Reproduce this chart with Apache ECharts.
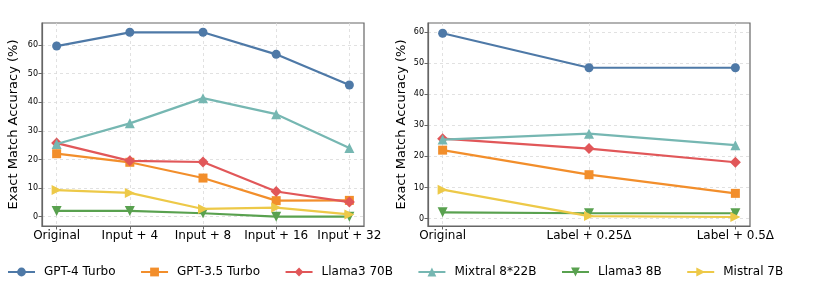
<!DOCTYPE html>
<html><head><meta charset="utf-8">
<script src="https://cdn.jsdelivr.net/npm/echarts@6/dist/echarts.min.js"></script>
<style>html,body{margin:0;padding:0;background:#fff}#c{width:830px;height:297px}</style>
</head><body><div id="c"></div>
<script>
const leftCats = ['Original', 'Input + 4', 'Input + 8', 'Input + 16', 'Input + 32'];
const rightCats = ['Original', 'Label + 0.25Δ', 'Label + 0.5Δ'];
const yTicks = [0, 10, 20, 30, 40, 50, 60];
const seriesNames = ['GPT-4 Turbo', 'GPT-3.5 Turbo', 'Llama3 70B', 'Mixtral 8*22B', 'Llama3 8B', 'Mistral 7B'];

const leftGPT4 = [59.6, 64.4, 64.4, 56.7, 46.0];
const leftGPT35 = [22.0, 19.0, 13.5, 5.6, 5.7];
const leftLlama70 = [25.7, 19.5, 19.1, 8.8, 5.1];
const leftMixtral = [25.4, 32.6, 41.4, 35.8, 24.0];
const leftLlama8 = [2.0, 2.0, 1.2, 0.0, 0.0];
const leftMistral = [9.3, 8.3, 2.7, 3.2, 0.8];

const rightGPT4 = [59.6, 48.5, 48.5];
const rightGPT35 = [22.0, 14.1, 8.1];
const rightLlama70 = [25.7, 22.5, 18.1];
const rightMixtral = [25.4, 27.3, 23.6];
const rightLlama8 = [2.0, 1.7, 1.7];
const rightMistral = [9.3, 0.8, 0.5];

const colors = ['#4e79a7', '#f28e2b', '#e15759', '#76b7b2', '#59a14f', '#edc948'];
const symbols = ['circle', 'rect', 'diamond', 'path://M5,0 L10,10 L0,10 Z', 'path://M0,0 L10,0 L5,10 Z', 'path://M0,0 L10,5 L0,10 Z'];
const sizes = [9, 9, 11, 10, 10, 10];

const leftData = [leftGPT4, leftGPT35, leftLlama70, leftMixtral, leftLlama8, leftMistral];
const rightData = [rightGPT4, rightGPT35, rightLlama70, rightMixtral, rightLlama8, rightMistral];

const frame = '#666';
function xAxis(gi, cats, min, max) {
  return {
    type: 'value', gridIndex: gi, min: min, max: max,
    axisLine: { show: true, onZero: false, lineStyle: { color: frame, width: 1.2 } },
    axisTick: { show: true, length: 3.5, lineStyle: { color: frame }, customValues: cats.map((c, i) => i) },
    axisLabel: { customValues: cats.map((c, i) => i), formatter: v => cats[Math.round(v)], color: '#000', fontSize: 12, fontFamily: 'DejaVu Sans', margin: 4 },
    splitLine: { show: true, lineStyle: { color: '#dadada', type: [3, 3], width: 0.8 } }
  };
}
function yAxis(gi, min, max, gap) {
  return {
    type: 'value', gridIndex: gi, min: min, max: max,
    name: 'Exact Match Accuracy (%)', nameLocation: 'middle', nameGap: gap,
    nameTextStyle: { fontSize: 13, fontFamily: 'DejaVu Sans', color: '#000' },
    axisLine: { show: true, onZero: false, lineStyle: { color: frame, width: 1.2 } },
    axisTick: { show: true, length: 3.5, lineStyle: { color: frame }, customValues: yTicks },
    axisLabel: { customValues: yTicks, color: '#000', fontSize: 8, fontFamily: 'DejaVu Sans', margin: 4 },
    splitLine: { show: true, lineStyle: { color: '#dadada', type: [3, 3], width: 0.8 } }
  };
}
const series = [];
[leftData, rightData].forEach((dataset, gi) => {
  dataset.forEach((arr, si) => {
    series.push({
      name: seriesNames[si], type: 'line', xAxisIndex: gi, yAxisIndex: gi,
      data: arr.map((v, i) => [i, v]),
      symbol: symbols[si], symbolSize: sizes[si], showAllSymbol: true,
      lineStyle: { width: 2.2, color: colors[si] },
      itemStyle: { color: colors[si], borderWidth: 0 },
      z: 2 + si, animation: false, emphasis: { disabled: true }
    });
  });
});
const chart = echarts.init(document.getElementById('c'), null, { renderer: 'canvas' });
chart.setOption({
  animation: false,
  color: colors,
  grid: [
    { left: 42, top: 23, width: 322, height: 203, show: true, borderColor: frame, borderWidth: 1.2, containLabel: false },
    { left: 428, top: 23, width: 322, height: 203, show: true, borderColor: frame, borderWidth: 1.2, containLabel: false }
  ],
  xAxis: [xAxis(0, leftCats, -0.2, 4.2), xAxis(1, rightCats, -0.1, 2.1)],
  yAxis: [yAxis(0, -3.25, 67.65, 22), yAxis(1, -2.4, 62.9, 19.5)],
  legend: {
    data: seriesNames, left: 7, top: 266, padding: 0, itemWidth: 27, itemHeight: 11, itemGap: 24.5,
    textStyle: { fontSize: 12, fontFamily: 'DejaVu Sans', color: '#000', padding: [0, 0, 0, 4] }
  },
  series: series
});
</script></body></html>
